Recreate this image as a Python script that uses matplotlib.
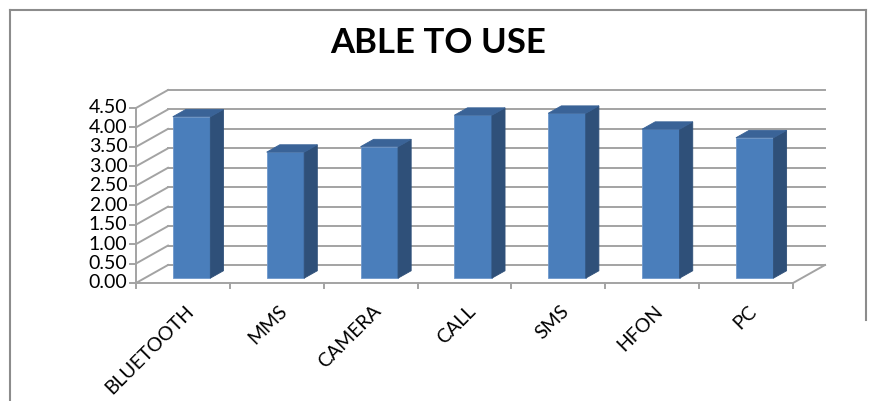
import matplotlib.pyplot as plt
from matplotlib.patches import Polygon
from matplotlib.lines import Line2D

# data
categories = ['BLUETOOTH', 'MMS', 'CAMERA', 'CALL', 'SMS', 'HFON', 'PC']
values = [4.15, 3.24, 3.38, 4.19, 4.24, 3.83, 3.61]
yticks = [0.0, 0.5, 1.0, 1.5, 2.0, 2.5, 3.0, 3.5, 4.0, 4.5]

W, H = 877, 401
fig = plt.figure(figsize=(W / 100, H / 100), dpi=100)
ax = fig.add_axes([0, 0, 1, 1])
ax.axis('off')

# map data to pixels: x=0 at px 136, x=7 at px 793; y=0 at px 283, y=4.5 at px 108
px_x = (793 - 136) / len(categories)
px_y = (283 - 108) / 4.5
ax.set_xlim(-136 / px_x, (W - 136) / px_x)
ax.set_ylim(-(H - 283) / px_y, 283 / px_y)

# depth offset of the 3d box
DX = 32 / px_x
DY = 18 / px_y
n = len(categories)
ymax = yticks[-1]
grid_c = '#a3a3a3'
lw = 1.4

# back wall gridlines + left wall diagonals
for t in yticks:
    ax.plot([DX, n + DX], [t + DY, t + DY], color=grid_c, lw=lw, zorder=1)
    ax.plot([0, DX], [t, t + DY], color=grid_c, lw=lw, zorder=1)
    ax.plot([-0.06, 0], [t, t], color=grid_c, lw=lw, zorder=1)
# left front edge, floor front and right floor edge
ax.plot([0, 0], [0, ymax], color=grid_c, lw=lw, zorder=1)
ax.plot([0, n], [0, 0], color=grid_c, lw=lw, zorder=1)
ax.plot([n, n + DX], [0, DY], color=grid_c, lw=lw, zorder=1)
for i in range(n + 1):
    ax.plot([i, i], [0, -0.13], color=grid_c, lw=lw, zorder=1)

# bars
bw = 0.4
d0, d1 = 0.27, 0.68
front_c, side_c, top_c = '#4a7ebb', '#2f5079', '#3a6397'
for i, v in enumerate(values):
    x0 = i + 0.5 - bw / 2 + d0 * DX
    x1 = x0 + bw
    y0 = d0 * DY
    ox = (d1 - d0) * DX
    oy = (d1 - d0) * DY
    ax.add_patch(Polygon([(x0, y0), (x1, y0), (x1, y0 + v), (x0, y0 + v)],
                         facecolor=front_c, edgecolor='#6f98cc', lw=0.6, zorder=3))
    ax.add_patch(Polygon([(x1, y0), (x1 + ox, y0 + oy), (x1 + ox, y0 + oy + v), (x1, y0 + v)],
                         facecolor=side_c, edgecolor=side_c, lw=0.6, zorder=3))
    ax.add_patch(Polygon([(x0, y0 + v), (x1, y0 + v), (x1 + ox, y0 + oy + v), (x0 + ox, y0 + oy + v)],
                         facecolor=top_c, edgecolor=top_c, lw=0.6, zorder=3))

# tick labels
for t in yticks:
    ax.text(-0.09, t, f'{t:.2f}', ha='right', va='center', fontsize=14,
            family='Lato', color='black')
for i, c in enumerate(categories):
    ax.text(i + 0.52, -0.5, c, ha='right', va='top', rotation=45,
            rotation_mode='anchor', fontsize=14, family='Lato', color='black')

# title
fig.text(0.5, 1 - 43 / H, 'ABLE TO USE', ha='center', va='center',
         fontsize=25, fontweight='bold', family='Lato')

# outer frame
fc = '#8c8c8c'
fig.add_artist(Line2D([10 / W, 10 / W], [0, 1 - 10 / H], color=fc, lw=1.5))
fig.add_artist(Line2D([10 / W, 866 / W], [1 - 10 / H, 1 - 10 / H], color=fc, lw=1.5))
fig.add_artist(Line2D([866 / W, 866 / W], [1 - 10 / H, 1 - 320 / H], color=fc, lw=1.5))

fig.savefig('out.png', dpi=100, facecolor='white')
